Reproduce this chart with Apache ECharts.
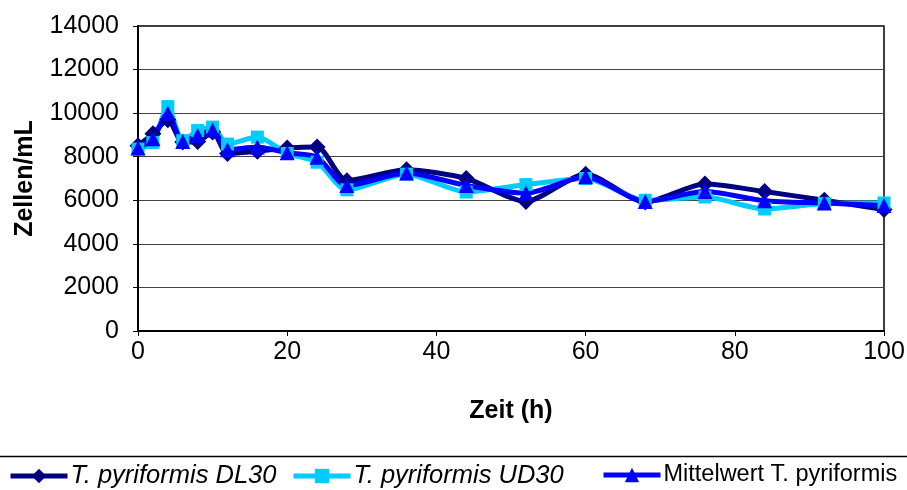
<!DOCTYPE html>
<html>
<head>
<meta charset="utf-8">
<script src="https://cdn.jsdelivr.net/npm/echarts@6/dist/echarts.min.js"></script>
<style>
  html, body { margin: 0; padding: 0; background: #fff; }
  #chart { width: 907px; height: 490px; }
</style>
</head>
<body>
<div id="chart"></div>
<script>
// Sampling times in hours
const hours = [0, 2, 4, 6, 8, 10, 12, 16, 20, 24, 28, 36, 44, 52, 60, 68, 76, 84, 92, 100];

// Cell counts (cells per mL)
const dl30 = [8500, 9050, 9700, 8670, 8700, 9130, 8150, 8250, 8400, 8450, 6900, 7400, 7000, 5950, 7200, 5920, 6750, 6400, 6000, 5580];
const ud30 = [8350, 8650, 10300, 8740, 9200, 9360, 8580, 8900, 8150, 7750, 6480, 7200, 6380, 6720, 7000, 6000, 6150, 5600, 5850, 5880];
const mean = [8400, 8830, 10000, 8700, 8970, 9230, 8320, 8450, 8180, 7980, 6680, 7250, 6680, 6330, 7080, 5940, 6400, 5980, 5870, 5760];

const yTicks = { min: 0, max: 14000, step: 2000 };
const xTicks = { min: 0, max: 100, step: 20 };

const seriesNames = ['T. pyriformis DL30', 'T. pyriformis UD30', 'Mittelwert T. pyriformis'];
const legendLeft = [8, 291, 601];

const pairs = (ys) => hours.map((h, i) => [h, ys[i]]);

const chart = echarts.init(document.getElementById('chart'), null, { renderer: 'canvas' });

const font = 'Arial, "Liberation Sans", sans-serif';

function lineSeries(name, data, color, symbol, size) {
  return {
    name: name,
    type: 'line',
    data: pairs(data),
    smooth: 0.25,
    symbol: symbol,
    symbolSize: size,
    showSymbol: true,
    lineStyle: { color: color, width: 5 },
    itemStyle: { color: color, borderColor: color, borderWidth: 0 },
    emphasis: { disabled: true },
    animation: false
  };
}

// one legend block per series, placed side by side along the bottom strip
const legends = seriesNames.map((name, i) => {
  const italic = name.startsWith('T.');
  return {
    left: legendLeft[i], top: 463, padding: 0,
    itemWidth: 57, itemHeight: 18,
    data: [name],
    lineStyle: { width: 5 },
    textStyle: {
      fontFamily: font, fontSize: italic ? 25.5 : 23.5, color: '#000', padding: [0, 0, 0, -2],
      fontStyle: italic ? 'italic' : 'normal'
    }
  };
});

chart.setOption({
  backgroundColor: '#fff',
  animation: false,
  grid: {
    left: 138, right: 23, top: 26, bottom: 159,
    outerBoundsMode: 'none',
    containLabel: false,
    show: true, borderColor: '#000', borderWidth: 1.5, backgroundColor: 'transparent'
  },
  xAxis: {
    type: 'value',
    min: xTicks.min, max: xTicks.max, interval: xTicks.step,
    name: 'Zeit (h)',
    nameLocation: 'middle',
    nameGap: 68,
    nameTextStyle: { fontFamily: font, fontSize: 25, fontWeight: 'bold', color: '#000' },
    axisLine: { show: true, lineStyle: { color: '#000', width: 2 } },
    axisTick: { show: true, length: 5, lineStyle: { color: '#000', width: 1 } },
    axisLabel: { fontFamily: font, fontSize: 25, color: '#000', margin: 9 },
    splitLine: { show: false }
  },
  yAxis: {
    type: 'value',
    min: yTicks.min, max: yTicks.max, interval: yTicks.step,
    name: 'Zellen/mL',
    nameLocation: 'middle',
    nameGap: 100,
    nameRotate: 90,
    nameTextStyle: { fontFamily: font, fontSize: 25, fontWeight: 'bold', color: '#000' },
    axisLine: { show: true, lineStyle: { color: '#000', width: 2 } },
    axisTick: { show: true, length: 5, lineStyle: { color: '#000', width: 1 } },
    axisLabel: { fontFamily: font, fontSize: 25, color: '#000', margin: 19, formatter: (v) => String(v) },
    splitLine: { show: true, lineStyle: { color: '#444', width: 1 } }
  },
  legend: legends,
  graphic: [{
    type: 'line',
    shape: { x1: 0, y1: 456.5, x2: 907, y2: 456.5 },
    style: { stroke: '#000', lineWidth: 1.5 },
    silent: true
  }],
  series: [
    lineSeries(seriesNames[0], dl30, '#000080', 'diamond', 17),
    lineSeries(seriesNames[1], ud30, '#00CCFF', 'rect', 13),
    lineSeries(seriesNames[2], mean, '#0000FF', 'triangle', 15)
  ]
});
</script>
</body>
</html>
